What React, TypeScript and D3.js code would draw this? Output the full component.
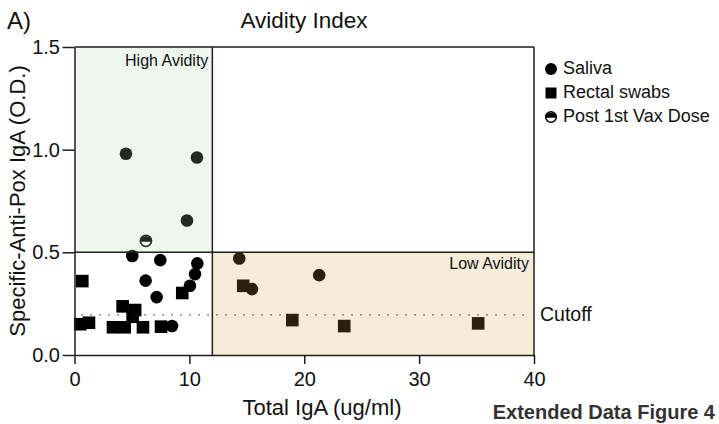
import React, { useEffect, useRef } from "react";
import * as d3 from "d3";

// Saliva (circles)
const salivaX = [4.48, 10.66, 9.79, 5.03, 7.47, 10.69, 10.49, 10.05, 6.19, 7.15, 8.49, 14.34, 15.45, 21.3];
const salivaY = [0.98, 0.962, 0.655, 0.482, 0.462, 0.446, 0.394, 0.337, 0.362, 0.282, 0.141, 0.47, 0.321, 0.389];

// Rectal swabs (squares)
const rectalX = [0.68, 9.38, 4.19, 5.28, 5.06, 0.5, 1.26, 3.35, 4.37, 5.96, 7.53, 14.69, 18.96, 23.48, 35.14];
const rectalY = [0.36, 0.302, 0.237, 0.219, 0.186, 0.15, 0.157, 0.135, 0.135, 0.135, 0.138, 0.337, 0.17, 0.141, 0.154];

// Post 1st Vax Dose (half filled circle)
const postVaxX = [6.22];
const postVaxY = [0.556];

const xTicks = [0, 10, 20, 30, 40];
const yTicks = [0, 0.5, 1.0, 1.5];
const avidityX = 12;
const avidityY = 0.5;
const cutoff = 0.195;

const legendLabels = ["Saliva", "Rectal swabs", "Post 1st Vax Dose"];

const FONT = "'Liberation Sans', Arial, Helvetica, sans-serif";
const INK = "#1e1e1e";

export default function App() {
  const ref = useRef<SVGSVGElement>(null);

  useEffect(() => {
    const svg = d3.select(ref.current);
    svg.selectAll("*").remove();

    const x = d3.scaleLinear().domain([0, 40]).range([74.5, 534]);
    const y = d3.scaleLinear().domain([0, 1.5]).range([355, 47]);

    const marks = svg.append("g");

    // markers (drawn under the tinted regions)
    marks.selectAll("circle.saliva")
      .data(salivaX)
      .enter()
      .append("circle")
      .attr("class", "saliva")
      .attr("cx", (d) => x(d))
      .attr("cy", (d, i) => y(salivaY[i]))
      .attr("r", 6.3)
      .attr("fill", "#000");

    const s = 12.6;
    marks.selectAll("rect.rectal")
      .data(rectalX)
      .enter()
      .append("rect")
      .attr("class", "rectal")
      .attr("x", (d) => x(d) - s / 2)
      .attr("y", (d, i) => y(rectalY[i]) - s / 2)
      .attr("width", s)
      .attr("height", s)
      .attr("fill", "#000");

    const half = (g: any, cx: number, cy: number, r: number) => {
      g.append("circle").attr("cx", cx).attr("cy", cy).attr("r", r)
        .attr("fill", "#fff").attr("stroke", "#000").attr("stroke-width", 1.6);
      g.append("path")
        .attr("d", `M${cx - r},${cy + 0.8} A${r},${r} 0 0 1 ${cx + r},${cy + 0.8} Z`)
        .attr("fill", "#000");
    };
    postVaxX.forEach((d, i) => half(marks, x(d), y(postVaxY[i]), 5.6));

    // tinted regions
    svg.append("rect")
      .attr("x", x(0)).attr("y", y(1.5))
      .attr("width", x(avidityX) - x(0)).attr("height", y(avidityY) - y(1.5))
      .attr("fill", "rgb(175,210,170)").attr("opacity", 0.2);
    svg.append("rect")
      .attr("x", x(avidityX)).attr("y", y(avidityY))
      .attr("width", x(40) - x(avidityX)).attr("height", y(0) - y(avidityY))
      .attr("fill", "rgb(215,160,70)").attr("opacity", 0.2);

    // cutoff line
    svg.append("line")
      .attr("x1", x(0.6)).attr("x2", x(39.7))
      .attr("y1", y(cutoff)).attr("y2", y(cutoff))
      .attr("stroke", "#333").attr("stroke-width", 1.3)
      .attr("stroke-dasharray", "1.3,7.7");

    // region borders
    const lines = svg.append("g").attr("stroke", INK).attr("stroke-width", 1.5);
    lines.append("line").attr("x1", x(0)).attr("x2", x(40)).attr("y1", y(1.5)).attr("y2", y(1.5));
    lines.append("line").attr("x1", x(0)).attr("x2", x(40)).attr("y1", y(avidityY)).attr("y2", y(avidityY));
    lines.append("line").attr("x1", x(avidityX)).attr("x2", x(avidityX)).attr("y1", y(0)).attr("y2", y(1.5));
    lines.append("line").attr("x1", x(40)).attr("x2", x(40)).attr("y1", y(0)).attr("y2", y(1.5));

    // axes
    const yAxis = d3.axisLeft(y).tickValues(yTicks).tickFormat(d3.format(".1f"))
      .tickSize(12).tickSizeOuter(0).tickPadding(2.5);
    const xAxis = d3.axisBottom(x).tickValues(xTicks).tickFormat(d3.format("d"))
      .tickSize(9).tickSizeOuter(0).tickPadding(8);

    const ya = svg.append("g").attr("transform", `translate(${x(0)},0)`).call(yAxis);
    const xa = svg.append("g").attr("transform", `translate(0,${y(0)})`).call(xAxis);
    [ya, xa].forEach((a) => {
      a.selectAll("path,line").attr("stroke", INK).attr("stroke-width", 1.5);
      a.selectAll("text").attr("font-family", FONT).attr("font-size", 20).attr("fill", "#111");
    });

    const text = (tx: number, ty: number, str: string, size: number, anchor = "start", weight = "normal", fill = "#111") =>
      svg.append("text").attr("x", tx).attr("y", ty).text(str)
        .attr("font-family", FONT).attr("font-size", size).attr("text-anchor", anchor)
        .attr("font-weight", weight).attr("fill", fill);

    text(7, 29, "A)", 24);
    text(304, 28, "Avidity Index", 22.5, "middle");
    text(322, 415, "Total IgA (ug/ml)", 22, "middle");
    text(715, 419, "Extended Data Figure 4", 20, "end", "bold", "#333");
    text(x(avidityX) - 4, 66, "High Avidity", 16, "end");
    text(x(40) - 5, 269, "Low Avidity", 16, "end");
    text(540, 321, "Cutoff", 19.5);

    svg.append("text")
      .attr("transform", `translate(25,${(y(0) + y(1.5)) / 2}) rotate(-90)`)
      .attr("text-anchor", "middle")
      .attr("font-family", FONT).attr("font-size", 22).attr("fill", "#111")
      .text("Specific-Anti-Pox IgA (O.D.)");

    // legend
    const lg = svg.append("g");
    lg.append("circle").attr("cx", 551).attr("cy", 69).attr("r", 6).attr("fill", "#000");
    lg.append("rect").attr("x", 545.5).attr("y", 87.5).attr("width", 11).attr("height", 11).attr("fill", "#000");
    half(lg, 551, 117, 5.3);
    legendLabels.forEach((l, i) => {
      text(563, 74 + i * 24, l, 18);
    });
  }, []);

  return (
    <svg
      ref={ref}
      width={719}
      height={424}
      style={{ position: "absolute", left: 0, top: 0, background: "#fff" }}
    />
  );
}
